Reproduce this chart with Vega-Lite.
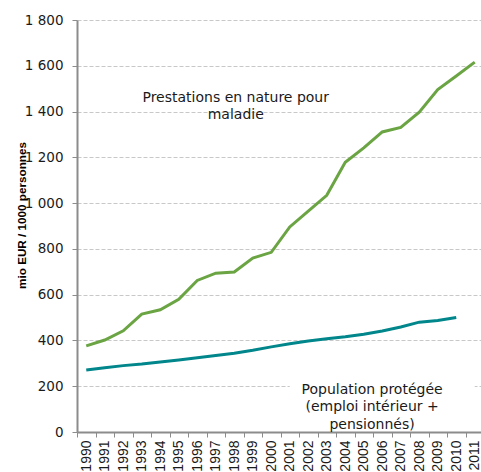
{
  "$schema": "https://vega.github.io/schema/vega-lite/v6.json",
  "width": 407,
  "height": 412,
  "autosize": {"type": "none"},
  "padding": {"left": 77, "top": 20, "right": 0, "bottom": 40},
  "background": "white",
  "config": {
    "view": {"stroke": null},
    "font": "Liberation Sans"
  },
  "datasets": {
    "series": [
      {"annee": "1990", "serie": "Prestations", "valeur": 376},
      {"annee": "1991", "serie": "Prestations", "valeur": 402},
      {"annee": "1992", "serie": "Prestations", "valeur": 442},
      {"annee": "1993", "serie": "Prestations", "valeur": 515},
      {"annee": "1994", "serie": "Prestations", "valeur": 534},
      {"annee": "1995", "serie": "Prestations", "valeur": 580},
      {"annee": "1996", "serie": "Prestations", "valeur": 662},
      {"annee": "1997", "serie": "Prestations", "valeur": 694},
      {"annee": "1998", "serie": "Prestations", "valeur": 699},
      {"annee": "1999", "serie": "Prestations", "valeur": 760},
      {"annee": "2000", "serie": "Prestations", "valeur": 785},
      {"annee": "2001", "serie": "Prestations", "valeur": 896},
      {"annee": "2002", "serie": "Prestations", "valeur": 965},
      {"annee": "2003", "serie": "Prestations", "valeur": 1034},
      {"annee": "2004", "serie": "Prestations", "valeur": 1178},
      {"annee": "2005", "serie": "Prestations", "valeur": 1241},
      {"annee": "2006", "serie": "Prestations", "valeur": 1311},
      {"annee": "2007", "serie": "Prestations", "valeur": 1331},
      {"annee": "2008", "serie": "Prestations", "valeur": 1397},
      {"annee": "2009", "serie": "Prestations", "valeur": 1496},
      {"annee": "2010", "serie": "Prestations", "valeur": 1555},
      {"annee": "2011", "serie": "Prestations", "valeur": 1616},
      {"annee": "1990", "serie": "Population", "valeur": 271},
      {"annee": "1991", "serie": "Population", "valeur": 281},
      {"annee": "1992", "serie": "Population", "valeur": 290},
      {"annee": "1993", "serie": "Population", "valeur": 297},
      {"annee": "1994", "serie": "Population", "valeur": 306},
      {"annee": "1995", "serie": "Population", "valeur": 315},
      {"annee": "1996", "serie": "Population", "valeur": 324},
      {"annee": "1997", "serie": "Population", "valeur": 334},
      {"annee": "1998", "serie": "Population", "valeur": 344},
      {"annee": "1999", "serie": "Population", "valeur": 357},
      {"annee": "2000", "serie": "Population", "valeur": 372},
      {"annee": "2001", "serie": "Population", "valeur": 386},
      {"annee": "2002", "serie": "Population", "valeur": 398},
      {"annee": "2003", "serie": "Population", "valeur": 407},
      {"annee": "2004", "serie": "Population", "valeur": 416},
      {"annee": "2005", "serie": "Population", "valeur": 427},
      {"annee": "2006", "serie": "Population", "valeur": 441},
      {"annee": "2007", "serie": "Population", "valeur": 459},
      {"annee": "2008", "serie": "Population", "valeur": 480},
      {"annee": "2009", "serie": "Population", "valeur": 487},
      {"annee": "2010", "serie": "Population", "valeur": 500}
    ]
  },
  "layer": [
    {
      "data": {"name": "series"},
      "mark": {"type": "line", "strokeWidth": 3, "clip": false},
      "encoding": {
        "x": {
          "field": "annee",
          "type": "ordinal",
          "scale": {"type": "band", "paddingInner": 0, "paddingOuter": 0},
          "axis": {
            "title": null,
            "labelAngle": -90,
            "labelAlign": "right",
            "labelBaseline": "middle",
            "labelFont": "Liberation Sans",
            "labelFontSize": 14,
            "labelColor": "#1a1a1a",
            "labelPadding": 3,
            "tickBand": "extent",
            "tickSize": 5,
            "tickColor": "#8c8c8c",
            "domainColor": "#8c8c8c",
            "domainWidth": 2,
            "grid": false
          }
        },
        "y": {
          "field": "valeur",
          "type": "quantitative",
          "scale": {"domain": [0, 1800], "nice": false},
          "axis": {
            "title": "mio EUR / 1000 personnes",
            "titleFont": "Liberation Sans",
            "titleFontSize": 11.7,
            "titleFontWeight": "bold",
            "titleColor": "#000000",
            "titleAngle": -90,
            "titleAlign": "center",
            "titleBaseline": "middle",
            "titleX": -56,
            "titleY": 195,
            "values": [0, 200, 400, 600, 800, 1000, 1200, 1400, 1600, 1800],
            "labelExpr": "replace(format(datum.value, ','), ',', ' ')",
            "labelFont": "DejaVu Sans",
            "labelFontSize": 13.5,
            "labelColor": "#1a1a1a",
            "labelPadding": 9,
            "tickSize": 5,
            "tickColor": "#8c8c8c",
            "domainColor": "#8c8c8c",
            "domainWidth": 2,
            "grid": true,
            "gridColor": "#c8c8c8",
            "gridDash": [4, 2],
            "gridWidth": 1
          }
        },
        "color": {
          "field": "serie",
          "type": "nominal",
          "scale": {"domain": ["Prestations", "Population"], "range": ["#6aa443", "#00868b"]},
          "legend": null
        }
      }
    },
    {
      "data": {"values": [{}]},
      "mark": {"type": "rect", "fill": "white"},
      "encoding": {
        "x": {"datum": "2001", "type": "ordinal"},
        "x2": {"datum": "2011"},
        "y": {"datum": 60, "type": "quantitative"},
        "y2": {"datum": 330}
      }
    },
    {
      "data": {"values": [{}]},
      "mark": {"type": "text", "font": "DejaVu Sans", "fontSize": 14, "color": "#1a1a1a", "align": "center", "baseline": "middle", "lineHeight": 16.7},
      "encoding": {
        "text": {"value": ["Prestations en nature pour", "maladie"]},
        "x": {"datum": "1998", "type": "ordinal", "bandPosition": 0.58},
        "y": {"datum": 1460, "type": "quantitative"}
      }
    },
    {
      "data": {"values": [{}]},
      "mark": {"type": "text", "font": "DejaVu Sans", "fontSize": 14, "color": "#1a1a1a", "align": "center", "baseline": "middle", "lineHeight": 17.7},
      "encoding": {
        "text": {"value": ["Population protégée", "(emploi intérieur +", "pensionnés)"]},
        "x": {"datum": "2005", "type": "ordinal", "bandPosition": 0.95},
        "y": {"datum": 185, "type": "quantitative"}
      }
    }
  ]
}
